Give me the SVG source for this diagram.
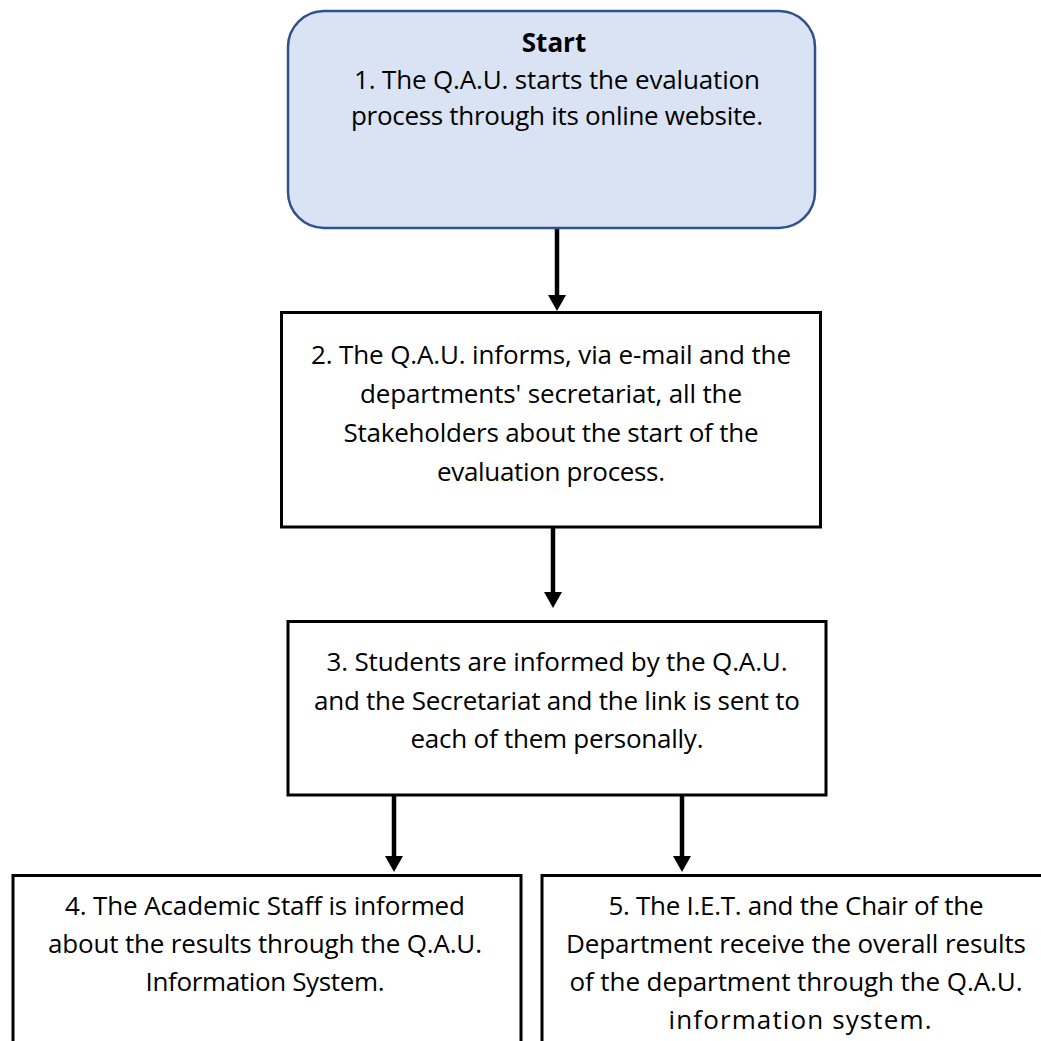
<svg xmlns="http://www.w3.org/2000/svg" width="1041" height="1041" viewBox="0 0 1041 1041">
  <style>
    .box { fill: #ffffff; stroke: #000000; stroke-width: 3; }
    .start { fill: #dae3f3; stroke: #2f528f; stroke-width: 2.5; }
    .lbl { font-family: "Open Sans", "Liberation Sans", sans-serif; font-size: 26px; fill: #000000; text-anchor: middle; }
    .bold { font-weight: bold; }
    .conn { stroke: #000000; stroke-width: 4.5; fill: none; marker-end: url(#head); }
  </style>
  <defs>
    <marker id="head" markerUnits="userSpaceOnUse" viewBox="0 0 16 18" refX="0" refY="9" markerWidth="16" markerHeight="18" orient="auto">
      <path d="M0,0 L16,9 L0,18 z" fill="#000000"/>
    </marker>
  </defs>

  <rect width="1041" height="1041" fill="#ffffff"/>

  <!-- connectors -->
  <g id="connectors">
    <line class="conn" x1="557" y1="228" x2="557" y2="295"/>
    <line class="conn" x1="553" y1="527" x2="553" y2="592"/>
    <line class="conn" x1="394" y1="795" x2="394" y2="856"/>
    <line class="conn" x1="682" y1="795" x2="682" y2="856"/>
  </g>

  <!-- step 1: start -->
  <g id="step1">
    <rect class="start" x="288" y="11" width="527" height="217" rx="36" ry="36"/>
    <text class="lbl bold" x="554" y="52">Start</text>
    <text class="lbl" x="557" y="89" textLength="406">1. The Q.A.U. starts the evaluation</text>
    <text class="lbl" x="557" y="125" textLength="412">process through its online website.</text>
  </g>

  <!-- step 2 -->
  <g id="step2">
    <rect class="box" x="281.5" y="312.5" width="539" height="214.5"/>
    <text class="lbl" x="551" y="364" textLength="480">2. The Q.A.U. informs, via e-mail and the</text>
    <text class="lbl" x="551" y="403" textLength="382">departments' secretariat, all the</text>
    <text class="lbl" x="551" y="442" textLength="415">Stakeholders about the start of the</text>
    <text class="lbl" x="551" y="481" textLength="228">evaluation process.</text>
  </g>

  <!-- step 3 -->
  <g id="step3">
    <rect class="box" x="288" y="621.5" width="538" height="173.5"/>
    <text class="lbl" x="557" y="671" textLength="461">3. Students are informed by the Q.A.U.</text>
    <text class="lbl" x="557" y="710" textLength="486">and the Secretariat and the link is sent to</text>
    <text class="lbl" x="557" y="748" textLength="293">each of them personally.</text>
  </g>

  <!-- step 4 -->
  <g id="step4">
    <rect class="box" x="13" y="875.5" width="508" height="200"/>
    <text class="lbl" x="265" y="915" textLength="400">4. The Academic Staff is informed</text>
    <text class="lbl" x="265" y="953" textLength="434">about the results through the Q.A.U.</text>
    <text class="lbl" x="265" y="991" textLength="239">Information System.</text>
  </g>

  <!-- step 5 -->
  <g id="step5">
    <rect class="box" x="542" y="875.5" width="520" height="200"/>
    <text class="lbl" x="796" y="915" textLength="375">5. The I.E.T. and the Chair of the</text>
    <text class="lbl" x="796" y="953" textLength="460">Department receive the overall results</text>
    <text class="lbl" x="796" y="991" textLength="453">of the department through the Q.A.U.</text>
    <text class="lbl" x="800" y="1029" textLength="263">information system.</text>
  </g>
</svg>
